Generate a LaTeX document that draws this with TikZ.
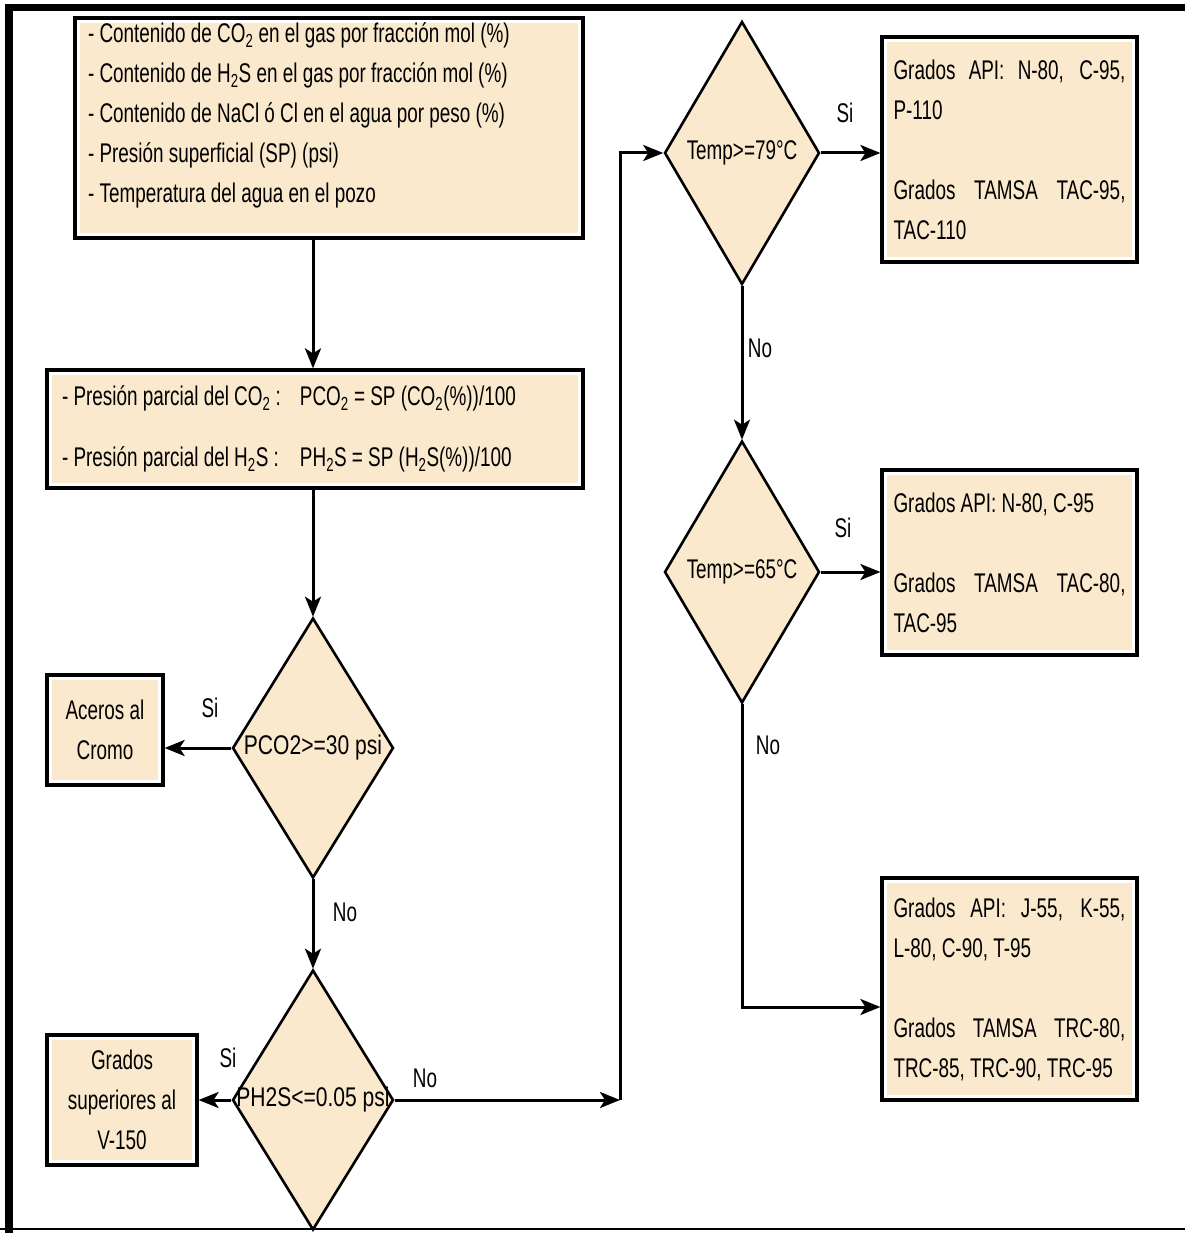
\documentclass[tikz,border=0pt]{standalone}
\usepackage{fontspec}
\setmainfont[FakeStretch=0.7]{Liberation Sans}
\newfontfamily\widerfont[FakeStretch=0.78]{Liberation Sans}
\usetikzlibrary{shapes.geometric,arrows.meta}
\definecolor{beige}{RGB}{250,233,205}
\begin{document}
\begin{tikzpicture}[x=1pt,y=-1pt,
  font=\fontsize{27}{40}\selectfont,
  box/.style={draw=black, line width=3.2pt, fill=white, inner sep=0pt,
    path picture={\fill[beige] ([shift={(5pt,-5pt)}]path picture bounding box.north west) rectangle ([shift={(-5pt,5pt)}]path picture bounding box.south east);}},
  dec/.style={diamond, draw=black, line width=2.6pt, fill=beige, inner sep=0pt},
  arr/.style={line width=3pt, -{Stealth[length=20pt,width=16pt,inset=5pt]}},
  lbl/.style={inner sep=0pt}]
\useasboundingbox (0,0) rectangle (1185,1233);
% frame
\fill[black] (5,4) rectangle (1185,11);
\fill[black] (5,4) rectangle (13,1233);
\draw[line width=1.5pt] (0,1229) -- (1185,1229);

% nodes
\node[box, minimum width=508pt, minimum height=220pt, text width=482pt, align=flush left] (in) at (329,128)
 {- Contenido de CO\textsubscript{2} en el gas por fracción mol (\%)\\
  - Contenido de H\textsubscript{2}S en el gas por fracción mol (\%)\\
  - Contenido de NaCl ó Cl en el agua por peso (\%)\\
  - Presión superficial (SP) (psi)\\
  - Temperatura del agua en el pozo\\[-10pt]\mbox{}};
\node[box, minimum width=536pt, minimum height=118pt, text width=506pt, align=flush left] (pp) at (315,429)
 {\makebox[238pt][l]{- Presión parcial del CO\textsubscript{2} :}PCO\textsubscript{2} = SP (CO\textsubscript{2}(\%))/100\\[21pt]
  \makebox[238pt][l]{- Presión parcial del H\textsubscript{2}S :}PH\textsubscript{2}S = SP (H\textsubscript{2}S(\%))/100};
\node[dec, minimum width=161pt, minimum height=260pt] (d1) at (313,748) {\makebox[0pt]{\widerfont PCO2>=30 psi}};
\node[box, minimum width=116pt, minimum height=110pt, align=center] (cr) at (105,730) {Aceros al\\Cromo};
\node[dec, minimum width=161pt, minimum height=260pt] (d2) at (313,1100) {\makebox[0pt]{\widerfont PH2S<=0.05 psi}};
\node[box, minimum width=150pt, minimum height=130pt, align=center] (sup) at (122,1100) {Grados\\superiores al\\V-150};
\node[dec, minimum width=155pt, minimum height=263pt] (d3) at (742,153) {\makebox[0pt]{Temp>=79°C}};
\node[dec, minimum width=155pt, minimum height=262pt] (d4) at (742,572) {\makebox[0pt]{Temp>=65°C}};
\node[box, minimum width=255pt, minimum height=225pt, text width=232pt, align=flush left] (r1) at (1009.5,149.5)
 {\makebox[232pt][s]{Grados API: N-80, C-95,}\\P-110\\[40pt]\makebox[232pt][s]{Grados TAMSA TAC-95,}\\TAC-110};
\node[box, minimum width=255pt, minimum height=185pt, text width=232pt, align=flush left] (r2) at (1009.5,562.5)
 {Grados API: N-80, C-95\\[40pt]\makebox[232pt][s]{Grados TAMSA TAC-80,}\\TAC-95};
\node[box, minimum width=255pt, minimum height=222pt, text width=232pt, align=flush left] (r3) at (1009.5,989)
 {\makebox[232pt][s]{Grados API: J-55, K-55,}\\L-80, C-90, T-95\\[40pt]\makebox[232pt][s]{Grados TAMSA TRC-80,}\\TRC-85, TRC-90, TRC-95};

% labels
\node[lbl] (si1) at (210,708) {Si};
\node[lbl] (no1) at (345,912) {No};
\node[lbl] (si2) at (228,1058) {Si};
\node[lbl] (no2) at (425,1078) {No};
\node[lbl] (si3) at (845,113) {Si};
\node[lbl] (no3) at (760,348) {No};
\node[lbl] (si4) at (843,528) {Si};
\node[lbl] (no4) at (768,745) {No};

% connectors
\coordinate (j) at (620,1100);
\coordinate (r3w) at ([yshift=-18pt]r3.west);
\draw[arr] (in.south -| d1.north) -- (pp.north -| d1.north);
\draw[arr] (pp.south -| d1.north) -- (d1.north);
\draw[arr] (d1.west) -- (d1.west -| cr.east);
\draw[arr] (d1.south) -- (d2.north);
\draw[arr] (d2.west) -- (sup.east);
\draw[arr] (d2.east) -- (j);
\draw[arr] (j) -- (j |- d3.west) -- (d3.west);
\draw[arr] (d3.east) -- (d3.east -| r1.west);
\draw[arr] (d3.south) -- (d4.north);
\draw[arr] (d4.east) -- (d4.east -| r2.west);
\draw[arr] (d4.south) -- (d4.south |- r3w) -- (r3w);
\end{tikzpicture}
\end{document}
